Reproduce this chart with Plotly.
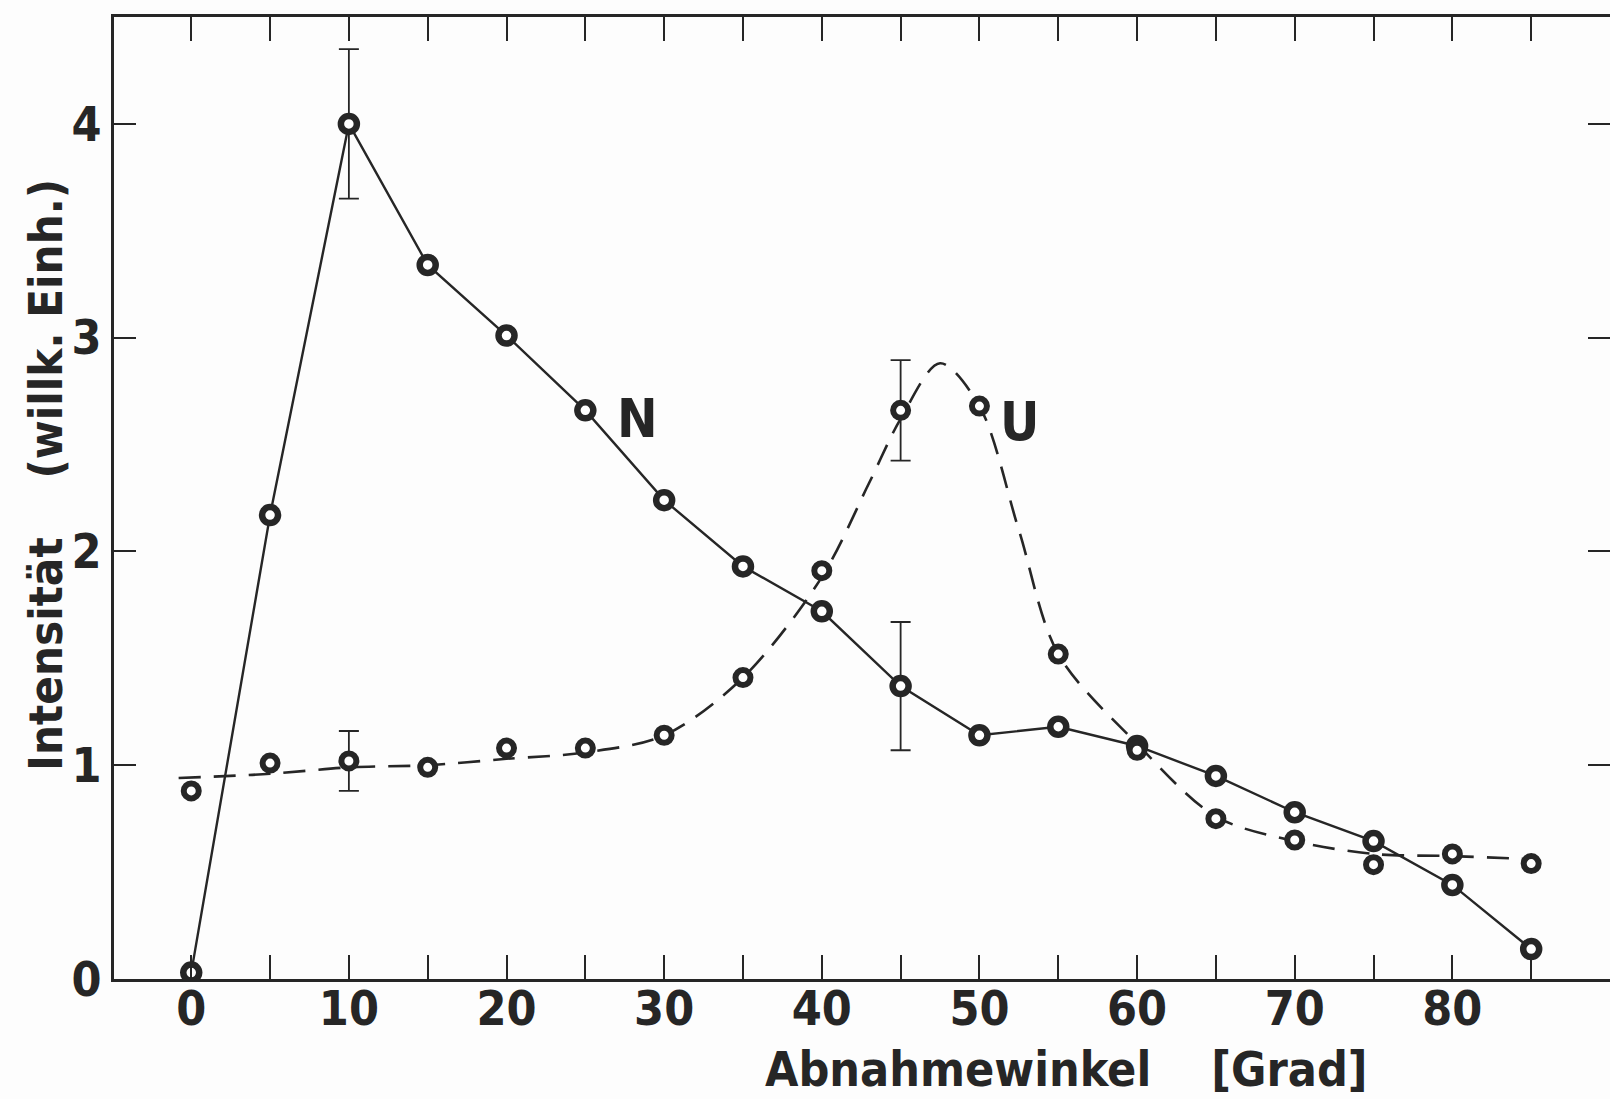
import plotly.graph_objects as go

# Measured angles (degrees) and intensities (arbitrary units)
angles = [0, 5, 10, 15, 20, 25, 30, 35, 40, 45, 50, 55, 60, 65, 70, 75, 80, 85]
n_values = [0.03, 2.17, 4.00, 3.34, 3.01, 2.66, 2.24, 1.93, 1.72, 1.37, 1.14, 1.18,
            1.09, 0.95, 0.78, 0.645, 0.44, 0.14]
u_values = [0.88, 1.01, 1.02, 0.99, 1.08, 1.08, 1.14, 1.41, 1.91, 2.66, 2.68, 1.52,
            1.07, 0.75, 0.65, 0.535, 0.585, 0.54]

# Hand-drawn guide curve through the U data
u_curve_angles = [-0.8, 5, 10, 15, 20, 25, 30, 35, 40, 43, 45, 47.5, 50, 52.5, 55,
                  60, 65, 70, 75, 80, 85]
u_curve_values = [0.94, 0.96, 0.99, 1.00, 1.03, 1.06, 1.14, 1.41, 1.88, 2.32, 2.62,
                  2.88, 2.68, 2.10, 1.52, 1.10, 0.76, 0.645, 0.585, 0.575, 0.56]

# Error bars
n_err_angles = [10, 45]
n_err_centers = [4.00, 1.37]
n_err_sizes = [0.35, 0.30]
u_err_angles = [10, 45]
u_err_centers = [1.02, 2.66]
u_err_sizes = [0.14, 0.235]

x_tickvals = list(range(0, 90, 5))
x_ticktext = [str(v) if v % 10 == 0 else "" for v in x_tickvals]
y_tickvals = [0, 1, 2, 3, 4]

ink = "#262626"
bg = "#fdfdfd"
cond_font = "DejaVu Sans Condensed, DejaVu Sans, sans-serif"

fig = go.Figure()

# error bars first so the circles sit on top
for xs, ys, es in [(n_err_angles, n_err_centers, n_err_sizes),
                   (u_err_angles, u_err_centers, u_err_sizes)]:
    fig.add_trace(go.Scatter(
        x=xs, y=ys, mode="markers",
        marker=dict(size=1, color="rgba(0,0,0,0)"),
        error_y=dict(type="data", array=es, visible=True, color=ink,
                     thickness=1.8, width=10),
        hoverinfo="skip",
    ))

# U guide curve (dashed)
fig.add_trace(go.Scatter(
    x=u_curve_angles, y=u_curve_values, mode="lines",
    line=dict(color=ink, width=2.6, dash="22px,13px", shape="spline", smoothing=0.9),
    hoverinfo="skip",
))

# N series (solid polyline with circles)
fig.add_trace(go.Scatter(
    x=angles, y=n_values, mode="lines+markers", name="N",
    line=dict(color=ink, width=2.4),
    marker=dict(symbol="circle", size=16, color="white",
                line=dict(color=ink, width=6.5)),
))

# U series markers
fig.add_trace(go.Scatter(
    x=angles, y=u_values, mode="markers", name="U",
    marker=dict(symbol="circle", size=15, color="white",
                line=dict(color=ink, width=6)),
))

# right-hand tick marks (no frame line on that side)
fig.add_trace(go.Scatter(x=[-10], y=[-10], yaxis="y2", mode="markers",
                         marker=dict(size=1, color="rgba(0,0,0,0)"), hoverinfo="skip"))

fig.update_layout(
    width=1610, height=1099,
    margin=dict(l=114, r=0, t=17, b=120),
    paper_bgcolor=bg, plot_bgcolor=bg,
    showlegend=False,
    xaxis=dict(
        range=[-4.9, 90.0], tickvals=x_tickvals, ticktext=x_ticktext,
        ticks="inside", ticklen=24, tickwidth=2.4, tickcolor=ink,
        showline=True, linecolor=ink, linewidth=2.6, mirror="ticks",
        showgrid=False, zeroline=False, ticklabelstandoff=-14,
        tickfont=dict(family=cond_font, size=48, color=ink, weight="bold"),
    ),
    yaxis=dict(
        range=[0, 4.5], tickvals=y_tickvals,
        ticks="inside", ticklen=22, tickwidth=2.4, tickcolor=ink,
        showline=True, linecolor=ink, linewidth=2.6, mirror=False,
        showgrid=False, zeroline=False, ticklabelstandoff=0,
        tickfont=dict(family=cond_font, size=48, color=ink, weight="bold"),
    ),
    yaxis2=dict(
        range=[0, 4.5], tickvals=[1, 2, 3, 4], overlaying="y", side="right",
        anchor="x", ticks="inside", ticklen=22, tickwidth=2.4, tickcolor=ink,
        showline=False, showgrid=False, zeroline=False, showticklabels=False,
    ),
    annotations=[
        dict(text="Abnahmewinkel\u00a0\u00a0\u00a0\u00a0[Grad]", xref="paper", yref="paper",
             x=0.637, y=-0.094, xanchor="center", yanchor="middle", showarrow=False,
             font=dict(family=cond_font, size=48, color=ink, weight="bold")),
        dict(text="Intensität\u00a0\u00a0\u00a0\u00a0(willk. Einh.)", xref="paper", yref="paper",
             x=-0.0455, y=0.524, xanchor="center", yanchor="middle", textangle=-90,
             showarrow=False, font=dict(family=cond_font, size=47, color=ink, weight="bold")),
        dict(text="N", x=28.3, y=2.62, xref="x", yref="y", showarrow=False,
             xanchor="center", yanchor="middle",
             font=dict(family=cond_font, size=54, color=ink, weight="bold")),
        dict(text="U", x=52.55, y=2.61, xref="x", yref="y", showarrow=False,
             xanchor="center", yanchor="middle",
             font=dict(family=cond_font, size=54, color=ink, weight="bold")),
    ],
)

fig.write_html("out.html")
